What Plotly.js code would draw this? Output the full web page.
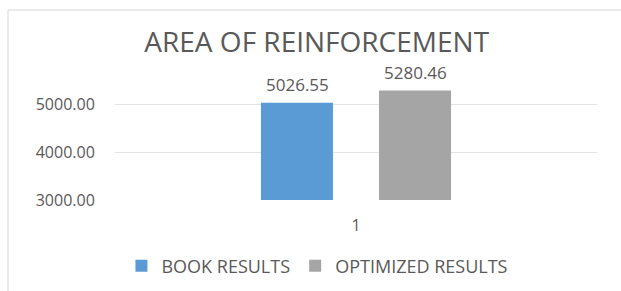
<!DOCTYPE html>
<html>
<head>
<meta charset="utf-8">
<script src="https://cdn.plot.ly/plotly-3.0.1.min.js"></script>
<style>
html,body{margin:0;padding:0;background:#fff;}
#chart{width:621px;height:291px;}
</style>
</head>
<body>
<div id="chart"></div>
<script>
const categories = ['1'];
const seriesNames = ['BOOK RESULTS', 'OPTIMIZED RESULTS'];
const bookResults = [5026.55];
const optimizedResults = [5280.46];
const yTickValues = [3000, 4000, 5000];
const yTickLabels = ['3000.00', '4000.00', '5000.00'];

const FONT = 'Open Sans, Liberation Sans, sans-serif';
const TXT = '#595959';

const traces = [
  {type:'bar', name: seriesNames[0], x: categories, y: bookResults,
   marker:{color:'#5B9BD5'}, hoverinfo:'none'},
  {type:'bar', name: seriesNames[1], x: categories, y: optimizedResults,
   marker:{color:'#A5A5A5'}, hoverinfo:'none'}
];

const annotations = [];
[bookResults, optimizedResults].forEach((arr, si) => {
  arr.forEach((v, i) => {
    annotations.push({
      x: i, y: v, xref:'x', yref:'y',
      text: v.toFixed(2), showarrow:false,
      xshift: si === 0 ? -59 : 59, yshift: 18,
      font:{family:FONT, size:17, color:TXT}
    });
  });
});

const layout = {
  width:621, height:291,
  margin:{l:115, r:24, t:80, b:91, autoexpand:false},
  paper_bgcolor:'#fff', plot_bgcolor:'#fff',
  barmode:'group', bargap:0.51, bargroupgap:0.39,
  title:{text:'AREA OF REINFORCEMENT', x:0.51, xanchor:'center', y:0.855, yanchor:'middle',
         font:{family:FONT, size:28, color:TXT}},
  xaxis:{type:'category', range:[-0.5, 0.5], autorange:false, showgrid:false, zeroline:false, showline:false,
         ticks:'outside', ticklen:11, tickcolor:'rgba(0,0,0,0)',
         tickfont:{family:FONT, size:16, color:TXT}},
  yaxis:{range:[3000,5500], autorange:false, tickvals:yTickValues, ticktext:yTickLabels,
         showgrid:true, gridcolor:'#e3e3e3', gridwidth:1, zeroline:false, showline:false,
         ticks:'outside', ticklen:16, tickcolor:'rgba(0,0,0,0)',
         tickfont:{family:FONT, size:16, color:TXT}},
  showlegend:true,
  legend:{orientation:'h', x:0.42, xanchor:'center', y:-0.55, yanchor:'middle',
          font:{family:FONT, size:18, color:TXT}, itemwidth:30, traceorder:'normal'},
  annotations: annotations,
  shapes:[{type:'rect', xref:'paper', yref:'paper', x0:-0.222, x1:1.1, y0:-0.9, y1:1.583,
           line:{color:'#d6d6d6', width:1}, fillcolor:'rgba(0,0,0,0)', layer:'below'}]
};

Plotly.newPlot('chart', traces, layout, {staticPlot:true, displayModeBar:false});
</script>
</body>
</html>
